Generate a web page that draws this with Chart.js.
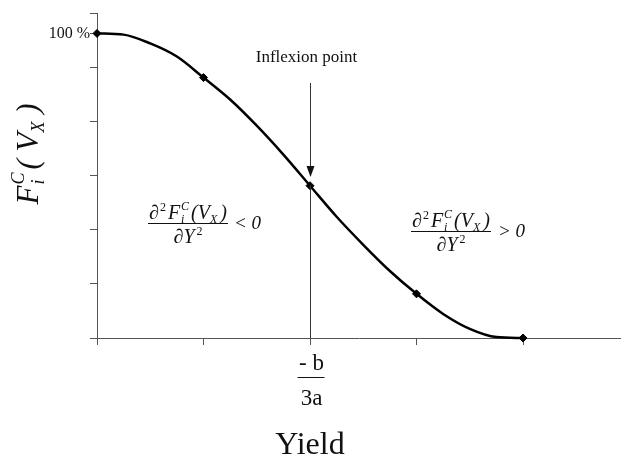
<!DOCTYPE html>
<html>
<head>
<meta charset="utf-8">
<script src="https://cdn.jsdelivr.net/npm/chart.js@4.4.1/dist/chart.umd.min.js"></script>
<style>
  html, body { margin: 0; padding: 0; background: #fff; }
  #wrap { width: 621px; height: 455px; }
</style>
</head>
<body>
<div id="wrap"><canvas id="chart"></canvas></div>
<script>
// Data (x in tick units, y in % of max)
const yieldX = [0, 0.25, 0.5, 0.75, 1, 1.25, 1.5, 1.75, 2, 2.25, 2.5, 2.75, 3, 3.25, 3.5, 3.75, 4];
const shareY = [100, 99.6, 96.7, 92.4, 85.5, 78.3, 69.7, 60.2, 50, 39.8, 30.6, 22, 14.5, 7.9, 3, 0.3, 0];
const markedX = [0, 1, 2, 3, 4];
const inflexX = 2;

const xTicks = [0, 1, 2, 3, 4];
const xMax = 4.92;
const yTicks = [0, 17.8, 35.5, 53.3, 71.1, 88.8, 100, 106.7];
const yMax = 106.7;
const yTickLabels = { 100: '100 %' };

const SERIF = '"Liberation Serif", "Times New Roman", serif';
const INK = '#111';
const AXIS = '#555';

// Rich text helpers: sub/superscripts drawn as segments
function segFont(g) { return (g.it ? 'italic ' : '') + g.s + 'px ' + SERIF; }
function segWidth(ctx, g) {
    ctx.font = segFont(g);
    let w;
    if (g.stack) {
        w = Math.max(ctx.measureText(g.stack[0]).width, ctx.measureText(g.stack[1]).width);
    } else {
        w = ctx.measureText(g.t).width;
    }
    return w + (g.gap || 0);
}
function drawRich(ctx, segs, x, y, align) {
    const w = segs.reduce((a, g) => a + segWidth(ctx, g), 0);
    let cx = align === 'center' ? x - w / 2 : (align === 'right' ? x - w : x);
    ctx.textAlign = 'left';
    ctx.textBaseline = 'alphabetic';
    segs.forEach(g => {
        const gw = segWidth(ctx, g);
        ctx.font = segFont(g);
        if (g.stack) {
            ctx.fillText(g.stack[0], cx, y + g.up);
            ctx.fillText(g.stack[1], cx, y + g.down);
        } else {
            ctx.fillText(g.t, cx, y + (g.dy || 0));
        }
        cx += gw;
    });
    return w;
}

const numerator = [
    { t: '\u2202', s: 20, it: true, gap: 1 },
    { t: '2', s: 12, dy: -8, gap: 2 },
    { t: 'F', s: 20, it: true, gap: 1 },
    { stack: ['C', 'i'], s: 12, it: true, up: -9, down: 4, gap: 2 },
    { t: '(V', s: 20, it: true },
    { t: 'X', s: 12, it: true, dy: 4, gap: 3 },
    { t: ')', s: 20, it: true }
];
const denominator = [
    { t: '\u2202Y', s: 20, it: true, gap: 2 },
    { t: '2', s: 12, dy: -8 }
];
const yTitle = [
    { t: 'F', s: 31, it: true, gap: 1 },
    { stack: ['C', 'i'], s: 18, it: true, up: -14, down: 6, gap: 3 },
    { t: '( ', s: 31, it: true },
    { t: 'V', s: 31, it: true },
    { t: 'X', s: 18, it: true, dy: 6 },
    { t: ' )', s: 31, it: true }
];

function drawFraction(ctx, cx, lineY, rel, relX) {
    ctx.fillStyle = INK;
    const w = drawRich(ctx, numerator, cx, lineY - 4, 'center');
    drawRich(ctx, denominator, cx, lineY + 20, 'center');
    ctx.strokeStyle = INK;
    ctx.lineWidth = 1;
    ctx.beginPath();
    ctx.moveTo(cx - w / 2 - 1, lineY + 0.5);
    ctx.lineTo(cx + w / 2 + 1, lineY + 0.5);
    ctx.stroke();
    ctx.font = 'italic 19px ' + SERIF;
    ctx.textAlign = 'left';
    ctx.fillText(rel, relX, lineY + 6);
}

const annotations = {
    id: 'annotations',
    afterDraw(chart) {
        const { ctx, scales: { x, y } } = chart;
        ctx.save();
        const px = Math.round(x.getPixelForValue(inflexX)) + 0.5;
        const py = y.getPixelForValue(shareY[yieldX.indexOf(inflexX)]);
        const y0 = y.getPixelForValue(0);

        // vertical line from inflexion point to axis
        ctx.strokeStyle = '#333';
        ctx.lineWidth = 1;
        ctx.beginPath();
        ctx.moveTo(px, py);
        ctx.lineTo(px, y0);
        ctx.stroke();

        // arrow
        ctx.beginPath();
        ctx.moveTo(px, 83);
        ctx.lineTo(px, 170);
        ctx.stroke();
        ctx.fillStyle = '#111';
        ctx.beginPath();
        ctx.moveTo(px - 4, 166);
        ctx.lineTo(px + 4, 166);
        ctx.lineTo(px, 177);
        ctx.closePath();
        ctx.fill();

        ctx.fillStyle = INK;
        ctx.font = '17px ' + SERIF;
        ctx.textAlign = 'center';
        ctx.textBaseline = 'alphabetic';
        ctx.fillText('Inflexion point', px - 4, 62);

        // second derivative annotations
        drawFraction(ctx, 188, 223, '< 0', 234);
        drawFraction(ctx, 451, 231, '> 0', 498);

        // x tick label -b / 3a
        ctx.fillStyle = INK;
        ctx.font = '23px ' + SERIF;
        ctx.textAlign = 'center';
        ctx.fillText('- b', px + 1, 370);
        ctx.fillText('3a', px + 1, 405);
        ctx.beginPath();
        ctx.moveTo(px - 13, 377.5);
        ctx.lineTo(px + 14, 377.5);
        ctx.stroke();

        // x title
        ctx.font = '32px ' + SERIF;
        ctx.fillText('Yield', 310, 454);

        // y title, rotated
        ctx.translate(38, 154);
        ctx.rotate(-Math.PI / 2);
        drawRich(ctx, yTitle, 0, 0, 'center');
        ctx.restore();
    }
};

const ctx = document.getElementById('chart').getContext('2d');
new Chart(ctx, {
    type: 'scatter',
    data: {
        datasets: [{
            data: yieldX.map((v, i) => ({ x: v, y: shareY[i] })),
            showLine: true,
            borderColor: '#000',
            borderWidth: 2.5,
            cubicInterpolationMode: 'monotone',
            pointStyle: 'rectRot',
            pointRadius: c => markedX.includes(c.raw.x) ? 4 : 0,
            pointBackgroundColor: '#000',
            pointBorderColor: '#000',
            pointBorderWidth: 1,
            clip: false
        }]
    },
    options: {
        responsive: true,
        maintainAspectRatio: false,
        animation: false,
        layout: { autoPadding: false, padding: { top: 13, right: 0, left: 0, bottom: 0 } },
        plugins: {
            legend: { display: false },
            tooltip: { enabled: false }
        },
        scales: {
            x: {
                type: 'linear',
                min: 0,
                max: xMax,
                afterBuildTicks: s => { s.ticks = xTicks.map(v => ({ value: v })); },
                afterFit: s => { s.height = 117; },
                grid: { display: true, drawOnChartArea: false, drawTicks: true, tickLength: 7, color: AXIS, lineWidth: 1 },
                border: { display: true, color: AXIS, width: 1 },
                ticks: { callback: () => '', padding: 0, font: { size: 1 } }
            },
            y: {
                min: 0,
                max: yMax,
                afterBuildTicks: s => { s.ticks = yTicks.map(v => ({ value: v })); },
                afterFit: s => { s.width = 97; },
                grid: { display: true, drawOnChartArea: false, drawTicks: true, tickLength: 7, color: AXIS, lineWidth: 1 },
                border: { display: true, color: AXIS, width: 1 },
                ticks: {
                    autoSkip: false,
                    padding: 0,
                    color: INK,
                    font: { family: SERIF, size: 16 },
                    callback: v => yTickLabels[v] || ''
                }
            }
        }
    },
    plugins: [annotations]
});
</script>
</body>
</html>
